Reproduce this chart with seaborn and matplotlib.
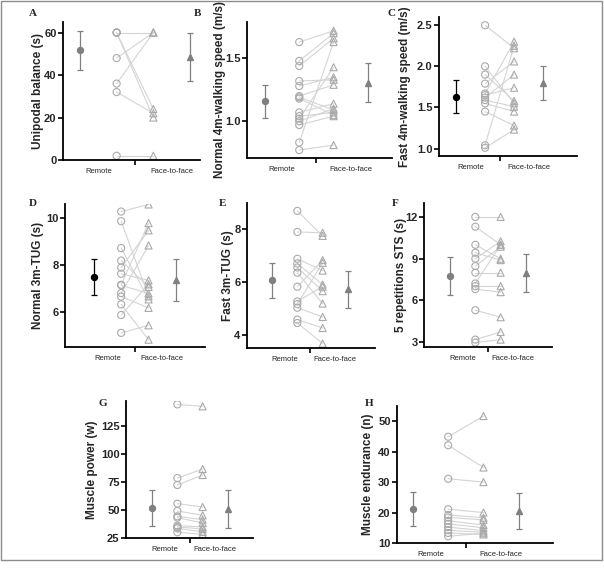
import numpy as np
import pandas as pd
import matplotlib
matplotlib.use("Agg")
import matplotlib.pyplot as plt
from matplotlib.patches import Rectangle
import seaborn as sns

sns.set_style("ticks")
plt.rcParams['font.family'] = ['Liberation Sans', 'DejaVu Sans']

### DATA ###

group_labels = ["Remote", "Face-to-face"]

# A - unipodal balance (s)
bal_remote = [60, 60, 60, 48, 36, 32, 2]
bal_f2f = [60, 24, 20, 60, 60, 22, 2]
bal_mean = [51.6, 48.5]
bal_sd = [9.2, 11.2]

# B - normal 4m walking speed (m/s)
nws_remote = [1.63, 1.48, 1.44, 1.32, 1.28, 1.20, 1.19, 1.18, 1.07, 1.04, 1.02, 1.00, 0.97, 0.83, 0.77]
nws_f2f = [1.72, 1.70, 1.66, 1.33, 1.35, 1.29, 1.09, 1.05, 1.14, 1.07, 1.43, 1.10, 1.04, 1.63, 0.81]
nws_mean = [1.16, 1.306]
nws_sd = [0.131, 0.154]

# C - fast 4m walking speed (m/s)
fws_remote = [2.50, 2.00, 1.90, 1.79, 1.67, 1.65, 1.62, 1.59, 1.55, 1.45, 1.04, 1.01]
fws_f2f = [2.22, 1.55, 1.58, 2.06, 2.30, 1.74, 1.90, 1.51, 1.45, 1.28, 2.25, 1.23]
fws_mean = [1.63, 1.798]
fws_sd = [0.202, 0.202]

# D - normal 3m TUG (s)
ntug_remote = [10.28, 9.87, 8.73, 8.20, 7.90, 7.64, 7.17, 7.15, 6.82, 6.67, 6.34, 5.89, 5.13]
ntug_f2f = [10.58, 6.68, 6.55, 7.08, 9.48, 7.36, 9.79, 6.80, 8.84, 6.19, 4.84, 7.19, 5.45]
ntug_mean = [7.49, 7.36]
ntug_sd = [0.77, 0.895]

# E - fast 3m TUG (s)
ftug_remote = [8.70, 7.90, 6.88, 6.70, 6.55, 6.35, 5.82, 5.26, 5.16, 5.02, 4.57, 4.44]
ftug_f2f = [7.75, 7.87, 6.43, 5.90, 5.65, 5.18, 6.83, 5.82, 6.73, 4.67, 4.25, 3.66]
ftug_mean = [6.07, 5.72]
ftug_sd = [0.665, 0.695]

# F - 5 repetitions STS (s)
sts_remote = [12.0, 11.3, 10.0, 9.43, 9.0, 8.47, 8.0, 7.22, 7.03, 6.82, 5.30, 3.19, 2.98]
sts_f2f = [12.0, 10.0, 9.0, 8.9, 10.25, 9.86, 8.0, 10.0, 7.03, 6.6, 4.8, 3.74, 3.19]
sts_mean = [7.76, 7.96]
sts_sd = [1.39, 1.38]

# G - muscle power (w)
pow_remote = [144.0, 78.4, 72.2, 55.6, 49.1, 44.3, 43.1, 36.0, 34.8, 33.7, 30.1]
pow_f2f = [142.2, 86.4, 81.1, 52.6, 45.2, 41.4, 38.4, 34.8, 33.1, 30.4, 28.3]
pow_mean = [51.8, 50.8]
pow_sd = [16.2, 17.05]

# H - muscle endurance (n)
end_remote = [44.9, 42.1, 31.1, 21.1, 19.2, 18.4, 17.3, 16.3, 15.2, 14.2, 13.3, 12.2]
end_f2f = [51.7, 34.8, 30.0, 20.0, 18.3, 17.6, 15.9, 15.0, 14.1, 13.5, 12.8, 13.2]
end_mean = [21.1, 20.6]
end_sd = [5.65, 5.85]

panels = [
    ("A", "Unipodal balance (s)", bal_remote, bal_f2f, bal_mean, bal_sd, (0, 65), [0, 20, 40, 60], "{:.0f}", "#808080"),
    ("B", "Normal 4m-walking speed (m/s)", nws_remote, nws_f2f, nws_mean, nws_sd, (0.707, 1.79), [1.0, 1.5], "{:.1f}", "#808080"),
    ("C", "Fast 4m-walking speed (m/s)", fws_remote, fws_f2f, fws_mean, fws_sd, (0.91, 2.6), [1.0, 1.5, 2.0, 2.5], "{:.1f}", "#000000"),
    ("D", "Normal 3m-TUG (s)", ntug_remote, ntug_f2f, ntug_mean, ntug_sd, (4.53, 10.6), [6, 8, 10], "{:.0f}", "#000000"),
    ("E", "Fast 3m-TUG (s)", ftug_remote, ftug_f2f, ftug_mean, ftug_sd, (3.49, 9.0), [4, 6, 8], "{:.0f}", "#808080"),
    ("F", "5 repetitions STS (s)", sts_remote, sts_f2f, sts_mean, sts_sd, (2.66, 13.0), [3, 6, 9, 12], "{:.0f}", "#808080"),
    ("G", "Muscle power (w)", pow_remote, pow_f2f, pow_mean, pow_sd, (25, 147), [25, 50, 75, 100, 125], "{:.0f}", "#808080"),
    ("H", "Muscle endurance (n)", end_remote, end_f2f, end_mean, end_sd, (10, 55), [10, 20, 30, 40, 50], "{:.0f}", "#808080"),
]

# layout in pixels: left, right, top, bottom of axes, xlim, ylabel anchor x, letter x/y
W, H = 604, 570
layout = {
    "A": (63, 200, 22, 160, (-0.46, 3.27), 44, 33, 14),
    "B": (247, 392, 22, 158, (-0.52, 3.70), 226, 197, 14),
    "C": (439, 577, 17, 156, (-0.59, 4.17), 411, 392, 14),
    "D": (65, 205, 204, 347, (-1.05, 4.06), 44, 33, 204),
    "E": (247, 375, 203, 348, (-0.99, 4.07), 234, 223, 203),
    "F": (424, 552, 203, 347, (-1.03, 4.03), 407, 395, 203),
    "G": (126, 253, 401, 538, (-1.03, 3.99), 98, 103, 404),
    "H": (397, 553, 406, 543, (-0.45, 3.97), 374, 369, 404),
}

fig = plt.figure(figsize=(W / 100, H / 100), dpi=100)
fig.patches.append(Rectangle((1 / W, 1 - 560 / H), 601 / W, 559 / H, transform=fig.transFigure,
                             fill=False, edgecolor="#8c8c8c", linewidth=1.0))

for letter, ylab, remote, f2f, mean, sd, ylim, yticks, fmt, lcol in panels:
    l, r, t, b, xlim, ylx, tx, ty = layout[letter]
    ax = fig.add_axes([l / W, 1 - b / H, (r - l) / W, (b - t) / H])
    n = len(remote)
    df = pd.DataFrame({
        "subj": list(range(n)) * 2,
        "x": [1] * n + [2] * n,
        "val": list(remote) + list(f2f),
        "grp": ["Remote"] * n + ["Face-to-face"] * n,
    })
    sns.lineplot(data=df, x="x", y="val", units="subj", estimator=None, color="#d4d4d4",
                 linewidth=0.8, ax=ax, legend=False, zorder=1)
    sns.scatterplot(data=df, x="x", y="val", style="grp",
                    markers={"Remote": "o", "Face-to-face": "^"},
                    s=26, ax=ax, legend=False, zorder=2)
    for coll in ax.collections:
        coll.set_facecolor("none")
        coll.set_edgecolor("#aaaaaa")
        coll.set_linewidth(0.8)

    # mean +/- SD
    ax.errorbar([0], [mean[0]], yerr=[sd[0]], fmt="o", color=lcol, ms=4.3,
                capsize=2.3, elinewidth=0.9, capthick=0.9, zorder=3)
    ax.errorbar([3], [mean[1]], yerr=[sd[1]], fmt="^", color="#808080", ms=4.5,
                capsize=2.3, elinewidth=0.9, capthick=0.9, zorder=3)

    ax.set_xlim(*xlim)
    ax.set_ylim(*ylim)
    ax.set_yticks(yticks)
    ax.set_yticklabels([fmt.format(v) for v in yticks], fontsize=8, fontweight="bold")
    ax.set_xticks([1.5])
    ax.set_xticklabels([""])
    ax.set_xticks([0.5, 2.5], minor=True)
    ax.set_xticklabels(group_labels, minor=True, fontsize=5.5)
    ax.tick_params(axis="x", which="minor", length=0, pad=6)
    ax.tick_params(axis="both", which="major", length=3.6, width=1.2, color="black", pad=1)
    ax.set_xlabel("")
    ax.set_ylabel(ylab, fontsize=8.5, fontweight="bold")
    ax.yaxis.set_label_coords((ylx - l) / (r - l), 0.5)
    sns.despine(ax=ax)
    for sp in ["left", "bottom"]:
        ax.spines[sp].set_linewidth(1.3)
        ax.spines[sp].set_color("black")

    fig.text(tx / W, 1 - ty / H, letter, fontsize=8, fontweight="bold",
             family=["Liberation Serif", "DejaVu Serif"], ha="center", va="center")

fig.savefig("out.png", dpi=100)
